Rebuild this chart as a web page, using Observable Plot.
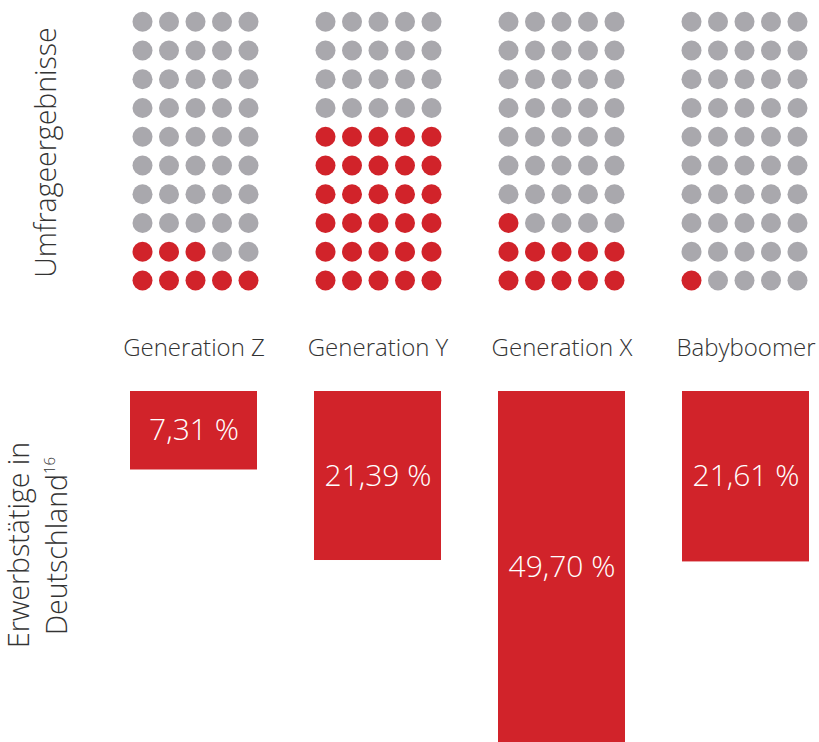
<!DOCTYPE html>
<html>
<head>
<meta charset="utf-8">
<script src="https://cdn.jsdelivr.net/npm/d3@7"></script>
<script src="https://cdn.jsdelivr.net/npm/@observablehq/plot@0.6"></script>
<style>
  html, body { margin: 0; padding: 0; background: #fff; }
  #chart { position: relative; width: 819px; height: 742px; overflow: hidden; font-family: 'Open Sans', sans-serif; }
  #chart > * { position: absolute; left: 0; }
  #titles { top: 0; pointer-events: none; }
</style>
</head>
<body>
<div id="chart"></div>
<script>
// ---- data ----
const generations = ["Generation Z", "Generation Y", "Generation X", "Babyboomer"];
const surveyHighlighted = [8, 30, 11, 1];          // red dots out of 50
const employmentShare = [7.31, 21.39, 49.70, 21.61]; // Erwerbstätige in Deutschland, %
const shareLabels = ["7,31 %", "21,39 %", "49,70 %", "21,61 %"];
const waffleColumns = 5;
const waffleRows = 10;
const barBaseline = -4.9;  // start of the bar scale domain

const RED = "#d1232a";
const GRAY = "#a9a8ad";
const TEXT = "#333333";
const FONT = "'Open Sans', sans-serif";

// waffle cells
const waffle = [];
generations.forEach((gen, gi) => {
  for (let i = 0; i < waffleColumns * waffleRows; i++) {
    waffle.push({gen, col: i % waffleColumns, row: Math.floor(i / waffleColumns), hit: i < surveyHighlighted[gi]});
  }
});
const bars = generations.map((gen, i) => ({gen, value: employmentShare[i], label: shareLabels[i]}));

const fxOpts = {domain: generations, paddingInner: 0.311, paddingOuter: 0, axis: null};

const wafflePlot = Plot.plot({
  width: 819, height: 300,
  marginLeft: 130, marginRight: 10.6, marginTop: 0, marginBottom: 0,
  style: {fontFamily: FONT, background: "transparent"},
  fx: fxOpts,
  x: {domain: [0, waffleColumns - 1], inset: 10, axis: null},
  y: {domain: [0, waffleRows - 1], range: [280, 21.3], axis: null},
  color: {domain: [true, false], range: [RED, GRAY]},
  marks: [
    Plot.dot(waffle, {fx: "gen", x: "col", y: "row", r: 10, fill: "hit", stroke: null})
  ]
});
wafflePlot.style.top = "0px";

const barPlot = Plot.plot({
  width: 819, height: 442,
  marginLeft: 128, marginRight: 9, marginTop: 91, marginBottom: 0,
  style: {fontFamily: FONT, background: "transparent"},
  fx: fxOpts,
  y: {domain: [barBaseline, 49.7], range: [91, 442], axis: null},
  marks: [
    Plot.barY(bars, {fx: "gen", y1: () => barBaseline, y2: "value", fill: RED}),
    Plot.text(bars, {fx: "gen", y: d => (barBaseline + d.value) / 2, text: "label",
      fill: "white", fontSize: 30, fontWeight: 300}),
    Plot.text(bars, {fx: "gen", text: "gen", frameAnchor: "top", dy: -53,
      fill: TEXT, fontSize: 24, fontWeight: 300})
  ]
});
barPlot.style.top = "300px";

const chart = document.getElementById("chart");
chart.append(wafflePlot, barPlot);

// rotated axis titles
const ns = "http://www.w3.org/2000/svg";
const svg = document.createElementNS(ns, "svg");
svg.setAttribute("id", "titles");
svg.setAttribute("width", 819);
svg.setAttribute("height", 742);
svg.setAttribute("font-family", FONT);
svg.setAttribute("font-weight", 300);
svg.setAttribute("fill", TEXT);
function rotated(x, y, parts) {
  const t = document.createElementNS(ns, "text");
  t.setAttribute("transform", `translate(${x},${y}) rotate(-90)`);
  t.setAttribute("text-anchor", "middle");
  t.setAttribute("font-size", 28.5);
  parts.forEach(p => {
    const s = document.createElementNS(ns, "tspan");
    s.textContent = p.text;
    if (p.sup) { s.setAttribute("font-size", 15); s.setAttribute("dy", -12); }
    t.appendChild(s);
  });
  svg.appendChild(t);
}
rotated(56, 152.5, [{text: "Umfrageergebnisse"}]);
rotated(28.5, 545, [{text: "Erwerbstätige in"}]);
rotated(67, 546, [{text: "Deutschland"}, {text: "16", sup: true}]);
chart.append(svg);
</script>
</body>
</html>
